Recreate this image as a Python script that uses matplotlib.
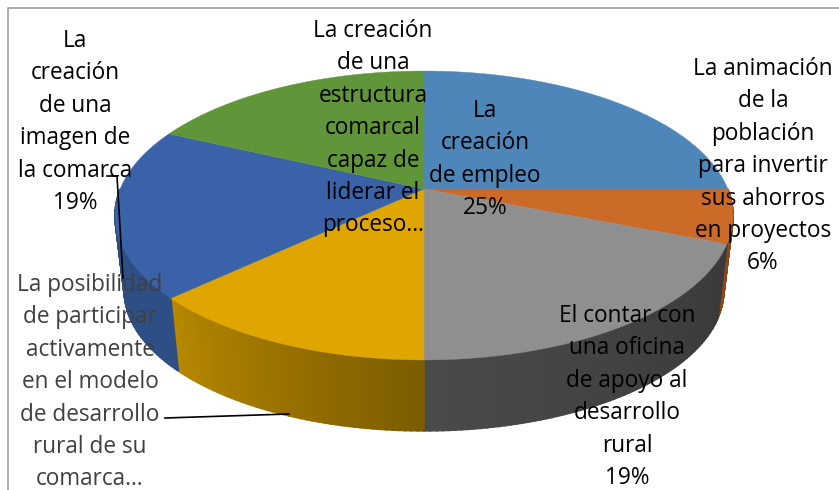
import matplotlib
matplotlib.use("Agg")
import matplotlib.pyplot as plt
import numpy as np
from matplotlib.colors import to_rgb

plt.rcParams['font.family'] = ['Open Sans', 'DejaVu Sans']

# slices, clockwise from the top of the pie
categories = [
    ["La", "creación", "de empleo"],
    ["La animación", "de la", "población", "para invertir", "sus ahorros", "en proyectos"],
    ["El contar con", "una oficina", "de apoyo al", "desarrollo", "rural"],
    ["La posibilidad", "de participar", "activamente", "en el modelo", "de desarrollo", "rural de su", "comarca…"],
    ["La", "creación", "de una", "imagen de", "la comarca"],
    ["La creación", "de una", "estructura", "comarcal", "capaz de", "liderar el", "proceso…"],
]
values = [25, 6, 19, 13, 19, 18]
show_percent = [True, True, True, False, True, False]
colors = ["#4E86BA", "#CC6A28", "#8F8F8F", "#DFA600", "#3A62A8", "#609639"]

# side wall shading, at the start and end of each slice
shade_start = [0.7, 0.68, 0.40, 0.55, 0.80, 0.7]
shade_end = [0.7, 0.68, 0.52, 0.82, 0.80, 0.7]

# label centres and first line y, pixels
label_x = [485, 763, 627, 90, 75, 373]
label_y = [111, 69, 316, 285, 41, 31]
label_colors = ["black", "black", "black", "#404040", "black", "black"]
line_step = 32.4

W, H = 839, 490
CX, CY = 424, 189
A, B, K = 139.6, 303.8, 0.1834
BOTTOM_Y, BOTTOM_S = 265, 0.97


def project(phi, bottom=False):
    # perspective view of the round pie
    u, v = np.sin(phi), -np.cos(phi)
    d = 1 - K * v
    if bottom:
        return CX + BOTTOM_S * B * u / d, BOTTOM_Y + BOTTOM_S * A * v / d
    return CX + B * u / d, CY + A * v / d


fig = plt.figure(figsize=(W / 100, H / 100), dpi=100)
ax = fig.add_axes([0, 0, 1, 1])
ax.set_xlim(0, W)
ax.set_ylim(H, 0)
ax.axis("off")

# chart frame
ax.plot([7.5, 7.5, W + 5], [H + 5, 8, 8], color="#A6A6A6", lw=1.3)

fractions = np.cumsum([0] + values) / sum(values)

# side wall first, only the front half shows
for i in range(len(values)):
    start, end = fractions[i] * 2 * np.pi, fractions[i + 1] * 2 * np.pi
    n = max(int((end - start) / np.radians(1)), 2)
    edges = np.linspace(start, end, n + 1)
    base = np.array(to_rgb(colors[i]))
    for j in range(n):
        if -np.cos(edges[j]) < 0 and -np.cos(edges[j + 1]) < 0:
            continue
        a = np.linspace(edges[j], edges[j + 1], 3)
        tx, ty = project(a)
        bx, by = project(a, bottom=True)
        shade = shade_start[i] + (shade_end[i] - shade_start[i]) * (j + 0.5) / n
        c = tuple(base * shade)
        ax.fill(np.r_[tx, bx[::-1]], np.r_[ty, by[::-1]], color=c, lw=1.2, zorder=2)

for i in range(len(values)):
    a = np.linspace(fractions[i], fractions[i + 1], 120) * 2 * np.pi
    tx, ty = project(a)
    ax.fill(np.r_[CX, tx], np.r_[CY, ty], color=colors[i], lw=0.3, zorder=3)

# leader lines
ax.plot([107, 117, 123], [176, 176, 278], color="black", lw=1.2, zorder=4)
ax.plot([165, 289], [418, 414], color="black", lw=1.2, zorder=4)

for i in range(len(values)):
    lines = list(categories[i])
    if show_percent[i]:
        lines.append(f"{values[i]}%")
    for j, line in enumerate(lines):
        ax.text(label_x[i], label_y[i] + j * line_step, line, ha="center", va="center",
                fontsize=16.3, color=label_colors[i], zorder=5)

fig.savefig("out.png", dpi=100)
